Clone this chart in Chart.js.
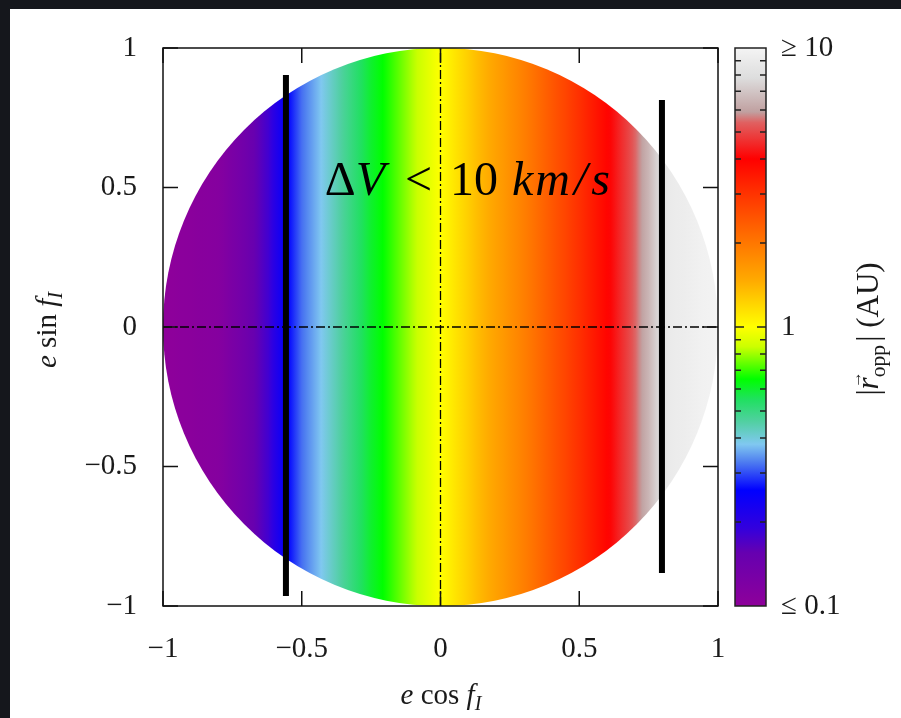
<!DOCTYPE html>
<html lang="en">
<head>
<meta charset="utf-8" />
<script src="https://cdn.jsdelivr.net/npm/chart.js@4.4.0/dist/chart.umd.min.js"></script>
<title>|r_opp| map</title>
<style>
  html, body { margin: 0; padding: 0; background: #fff; }
  canvas { display: block; }
</style>
</head>
<body>
<canvas id="mapa" width="901" height="718"></canvas>
<script>
// |r_opp| (AU) read across the disc; colour only changes with e cos f_I
var eCos = [-1, -0.8, -0.7, -0.62, -0.57, -0.55, -0.5, -0.43, -0.35, -0.25, -0.2, -0.1, 0, 0.15, 0.3, 0.45, 0.6, 0.68, 0.75, 0.82, 1];
var rOpp = [0.1, 0.11, 0.14, 0.18, 0.24, 0.26, 0.32, 0.38, 0.47, 0.6, 0.66, 0.82, 1.0, 1.4, 1.9, 2.7, 3.9, 5.0, 6.5, 9.0, 10];

// colour bar levels (AU) and their colours
var cbLevels = [0.1, 0.155, 0.19, 0.26, 0.33, 0.38, 0.46, 0.55, 0.65, 0.85, 1.0, 1.47, 2.0, 3.0, 4.0, 5.4, 5.9, 7.8, 10];
var cbColors = ["#8e009a", "#6600b0", "#3300dd", "#0000ff", "#5080f0", "#80c8f0", "#50d0a0", "#20e060", "#00ff00", "#ccff00",
                "#ffff00", "#ffaa00", "#ff7700", "#ff3300", "#ff0000", "#e06060", "#c0a0a0", "#dddddd", "#f4f4f4"];
var cbTicks = [0.1, 1, 10];
var cbTickLabels = ["\u2264 0.1", "1", "\u2265 10"];
var cbMinor = [0.2, 0.3, 0.4, 0.5, 0.6, 0.7, 0.8, 0.9, 2, 3, 4, 5, 6, 7, 8, 9];

// Delta V < 10 km/s limits (e cos f_I, e sin f_I)
var limiteIzq = [{ x: -0.557, y: 0.903 }, { x: -0.557, y: -0.964 }];
var limiteDer = [{ x: 0.798, y: 0.814 }, { x: 0.798, y: -0.882 }];
var ejeV = [{ x: 0, y: -1 }, { x: 0, y: 1 }];
var ejeH = [{ x: -1, y: 0 }, { x: 1, y: 0 }];

var SERIF = '"Liberation Serif", "Times New Roman", serif';

function hexRgb(h) {
    return [parseInt(h.substr(1, 2), 16), parseInt(h.substr(3, 2), 16), parseInt(h.substr(5, 2), 16)];
}
// colormap on a log scale
function colorDe(v) {
    var t = Math.log10(v);
    if (v <= cbLevels[0]) return cbColors[0];
    for (var i = 0; i < cbLevels.length - 1; i++) {
        var a = Math.log10(cbLevels[i]), b = Math.log10(cbLevels[i + 1]);
        if (t <= b) {
            var f = (t - a) / (b - a), c1 = hexRgb(cbColors[i]), c2 = hexRgb(cbColors[i + 1]);
            return "rgb(" + c1.map((c, k) => Math.round(c + (c2[k] - c) * f)).join(",") + ")";
        }
    }
    return cbColors[cbColors.length - 1];
}
function fmt(v) {
    return v < 0 ? "\u2212" + Math.abs(v) : String(v);
}

function fuente(p, base) {
    var size = p.sub ? base * 0.7 : (p.size || base);
    return (p.it ? "italic " : "") + size + "px " + SERIF;
}
// draws pieces of text (italic / subscripts) centred on cx, baseline cy
function textoRico(ctx, partes, base, cx, cy, rot) {
    ctx.save();
    ctx.translate(cx, cy);
    ctx.rotate(rot || 0);
    ctx.textAlign = "left";
    ctx.textBaseline = "alphabetic";
    var w = 0;
    partes.forEach(p => {
        ctx.font = fuente(p, base);
        p.w = (p.gap || 0) + (p.t ? ctx.measureText(p.t).width : 0);
        w += p.w;
    });
    var xx = -w / 2;
    partes.forEach(p => {
        if (p.t) {
            ctx.font = fuente(p, base);
            ctx.fillText(p.t, xx + (p.gap || 0), p.sub ? base * 0.22 : 0);
            if (p.flecha) {
                ctx.font = (base * 0.55) + "px " + SERIF;
                ctx.fillText("\u2192", xx + (p.gap || 0) + 1, -base * 0.55);
            }
        }
        xx += p.w;
    });
    ctx.restore();
}

const fondo = {
    id: "fondo",
    beforeDraw(chart) {
        const ctx = chart.ctx;
        ctx.save();
        ctx.fillStyle = "#15171c";
        ctx.fillRect(0, 0, chart.width, chart.height);
        ctx.fillStyle = "#ffffff";
        ctx.fillRect(10, 9, chart.width - 10, chart.height - 9);
        ctx.restore();
    }
};

const disco = {
    id: "disco",
    beforeDatasetsDraw(chart) {
        const { ctx, scales: { x, y } } = chart;
        const x0 = x.getPixelForValue(-1), x1 = x.getPixelForValue(1);
        const cx = x.getPixelForValue(0), cy = y.getPixelForValue(0);
        const g = ctx.createLinearGradient(x0, 0, x1, 0);
        for (let i = 0; i < eCos.length; i++) {
            g.addColorStop((x.getPixelForValue(eCos[i]) - x0) / (x1 - x0), colorDe(rOpp[i]));
            if (i < eCos.length - 1) {
                for (let k = 1; k < 6; k++) {
                    const f = k / 6;
                    const e = eCos[i] + (eCos[i + 1] - eCos[i]) * f;
                    const r = Math.pow(10, Math.log10(rOpp[i]) + (Math.log10(rOpp[i + 1]) - Math.log10(rOpp[i])) * f);
                    g.addColorStop((x.getPixelForValue(e) - x0) / (x1 - x0), colorDe(r));
                }
            }
        }
        ctx.save();
        ctx.beginPath();
        ctx.ellipse(cx, cy, x1 - cx, cy - y.getPixelForValue(1), 0, 0, 2 * Math.PI);
        ctx.fillStyle = g;
        ctx.fill();
        ctx.restore();
    }
};

const marco = {
    id: "marco",
    afterDatasetsDraw(chart) {
        const { ctx, chartArea: a, scales: { x, y, cb } } = chart;
        ctx.save();
        // frame and inward ticks
        ctx.strokeStyle = "#111";
        ctx.lineWidth = 1.5;
        ctx.strokeRect(a.left, a.top, a.right - a.left, a.bottom - a.top);
        ctx.beginPath();
        x.ticks.forEach(t => {
            const px = x.getPixelForValue(t.value);
            ctx.moveTo(px, a.bottom); ctx.lineTo(px, a.bottom - 15);
            ctx.moveTo(px, a.top); ctx.lineTo(px, a.top + 15);
        });
        y.ticks.forEach(t => {
            const py = y.getPixelForValue(t.value);
            ctx.moveTo(a.left, py); ctx.lineTo(a.left + 15, py);
            ctx.moveTo(a.right, py); ctx.lineTo(a.right - 15, py);
        });
        ctx.stroke();

        // colour bar
        const bl = cb.left + 17, br = cb.left + 48;
        const g = ctx.createLinearGradient(0, cb.bottom, 0, cb.top);
        cbLevels.forEach((v, i) => {
            g.addColorStop((cb.bottom - cb.getPixelForValue(v)) / (cb.bottom - cb.top), cbColors[i]);
        });
        ctx.fillStyle = g;
        ctx.fillRect(bl, cb.top, br - bl, cb.bottom - cb.top);
        ctx.strokeStyle = "#222";
        ctx.lineWidth = 1.5;
        ctx.strokeRect(bl, cb.top, br - bl, cb.bottom - cb.top);
        ctx.beginPath();
        cbMinor.concat([1]).forEach(v => {
            const py = cb.getPixelForValue(v);
            const len = v === 1 ? 9 : 6;
            ctx.moveTo(bl, py); ctx.lineTo(bl + len, py);
            ctx.moveTo(br, py); ctx.lineTo(br - len, py);
        });
        ctx.stroke();

        // Delta V label
        ctx.fillStyle = "#000";
        textoRico(ctx, [
            { t: "\u0394" }, { t: "V", it: true },
            { t: "<", gap: 20 }, { t: "10", gap: 18 },
            { t: "k", it: true, gap: 14 }, { t: "m", it: true, gap: 2 },
            { t: "/", it: true, gap: 4 }, { t: "s", it: true, gap: 4 }
        ], 48, x.getPixelForValue(0.097), y.getPixelForValue(0.473));
        ctx.restore();
    },
    afterDraw(chart) {
        const ctx = chart.ctx;
        ctx.save();
        ctx.fillStyle = "#1a1a1a";
        textoRico(ctx, [
            { t: "e", it: true }, { t: " cos " }, { t: "f", it: true }, { t: "I", it: true, sub: true }
        ], 29, 441, 704);
        textoRico(ctx, [
            { t: "e", it: true }, { t: " sin " }, { t: "f", it: true }, { t: "I", it: true, sub: true }
        ], 29, 56, 330, -Math.PI / 2);
        textoRico(ctx, [
            { t: "|" }, { t: "r", it: true, flecha: true }, { t: "opp", sub: true }, { t: "| (AU)", gap: 3 }
        ], 31, 878, 329, -Math.PI / 2);
        ctx.restore();
    }
};

const ticksFont = { family: SERIF, size: 29 };

new Chart(document.getElementById("mapa").getContext("2d"), {
    type: "scatter",
    data: {
        datasets: [
            { data: ejeV, showLine: true, borderColor: "#000", borderWidth: 1.3, borderDash: [9, 3, 2, 3], pointRadius: 0 },
            { data: ejeH, showLine: true, borderColor: "#000", borderWidth: 1.3, borderDash: [9, 3, 2, 3], pointRadius: 0 },
            { data: limiteIzq, showLine: true, borderColor: "#000", borderWidth: 6, pointRadius: 0, borderCapStyle: "butt" },
            { data: limiteDer, showLine: true, borderColor: "#000", borderWidth: 6, pointRadius: 0, borderCapStyle: "butt" }
        ]
    },
    options: {
        responsive: false,
        animation: false,
        devicePixelRatio: 1,
        layout: { padding: { top: 48, left: 0, right: 0, bottom: 0 } },
        plugins: { legend: { display: false }, tooltip: { enabled: false } },
        scales: {
            x: {
                type: "linear", position: "bottom", min: -1, max: 1,
                afterFit: s => { s.height = 112; },
                grid: { display: false, drawTicks: true, tickLength: 20 },
                border: { display: false },
                ticks: { stepSize: 0.5, padding: 6, color: "#1a1a1a", font: ticksFont, callback: fmt, maxRotation: 0 }
            },
            y: {
                type: "linear", position: "left", min: -1, max: 1,
                afterFit: s => { s.width = 163; },
                grid: { display: false, drawTicks: true, tickLength: 20 },
                border: { display: false },
                ticks: { stepSize: 0.5, padding: 6, color: "#1a1a1a", font: ticksFont, callback: fmt }
            },
            cb: {
                type: "logarithmic", axis: "y", position: "right", min: 0.1, max: 10,
                afterFit: s => { s.width = 183; },
                afterBuildTicks: s => { s.ticks = cbTicks.map(v => ({ value: v })); },
                grid: { display: false, drawTicks: true, tickLength: 55 },
                border: { display: false },
                ticks: {
                    autoSkip: false, padding: 8, color: "#1a1a1a", font: ticksFont,
                    callback: (v) => cbTickLabels[cbTicks.indexOf(v)]
                }
            }
        }
    },
    plugins: [fondo, disco, marco]
});
</script>
</body>
</html>
